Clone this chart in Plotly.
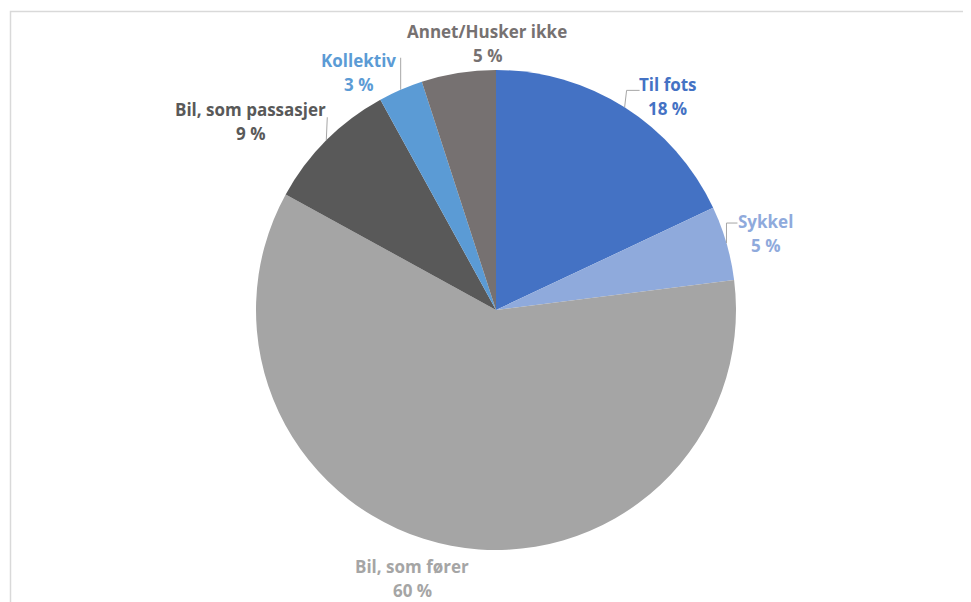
import math
import plotly.graph_objects as go

# ---- data ----
categories = ["Til fots", "Sykkel", "Bil, som fører", "Bil, som passasjer", "Kollektiv", "Annet/Husker ikke"]
values = [18, 5, 60, 9, 3, 5]
colors = ["#4472C4", "#8FAADC", "#A5A5A5", "#595959", "#5B9BD5", "#767171"]

# ---- layout geometry (screen pixels) ----
W, H = 971, 602
CX, CY, R = 496, 310, 240
PAGE_OFF = 8  # page body margin offset of the rendered figure

# label block offsets from slice edge point (pixels), and leader-line elbows (relative)
label_offsets = [(43, -11), (39, -10), (-39, 33), (-76, -19), (-42, -17), (29, -29)]
leaders = [
    [(2, -17), (15, -17)],   # Til fots
    [(0, -20), (11, -20)],   # Sykkel
    None,                    # Bil, som fører
    [(1, -23)],              # Bil, som passasjer
    [(0, -32)],              # Kollektiv
    None,                    # Annet
]

def px(x):
    return (x - PAGE_OFF) / W

def py(y):
    return 1 - (y - PAGE_OFF) / H

fig = go.Figure(go.Pie(
    labels=categories,
    values=values,
    sort=False,
    direction="clockwise",
    rotation=0,
    marker=dict(colors=colors, line=dict(width=0)),
    textinfo="none",
    hoverinfo="label+percent",
    domain=dict(x=[px(CX - R), px(CX + R)], y=[py(CY + R), py(CY - R)]),
    showlegend=False,
))

total = sum(values)
annotations = []
shapes = []
cum = 0.0
font_family = "Open Sans"
for i, (cat, v) in enumerate(zip(categories, values)):
    mid = (cum + v / 2) / total * 2 * math.pi
    cum += v
    ex = CX + R * math.sin(mid)
    ey = CY - R * math.cos(mid)
    dx, dy = label_offsets[i]
    lx, ly = ex + dx, ey + dy
    annotations.append(dict(x=px(lx), y=py(ly - 12), xref="paper", yref="paper",
                            text=f"<b>{cat}</b>", showarrow=False,
                            font=dict(family=font_family, size=17, color=colors[i]),
                            xanchor="center", yanchor="middle"))
    annotations.append(dict(x=px(lx), y=py(ly + 12), xref="paper", yref="paper",
                            text=f"<b>{v} %</b>", showarrow=False,
                            font=dict(family=font_family, size=17, color=colors[i]),
                            xanchor="center", yanchor="middle"))
    if leaders[i]:
        pts = [(ex, ey)] + [(ex + a, ey + b) for a, b in leaders[i]]
        path = "M " + " L ".join(f"{px(x)},{py(y)}" for x, y in pts)
        shapes.append(dict(type="path", path=path, xref="paper", yref="paper",
                           line=dict(color="#A6A6A6", width=1)))

# chart-area border
shapes.append(dict(type="rect", xref="paper", yref="paper",
                   x0=px(10.5), x1=1.1, y0=-0.1, y1=py(11.5),
                   line=dict(color="#D9D9D9", width=1.5), fillcolor="rgba(0,0,0,0)"))

fig.update_layout(
    width=W, height=H,
    margin=dict(l=0, r=0, t=0, b=0),
    paper_bgcolor="white",
    plot_bgcolor="white",
    annotations=annotations,
    shapes=shapes,
)

fig.write_html("out.html")
